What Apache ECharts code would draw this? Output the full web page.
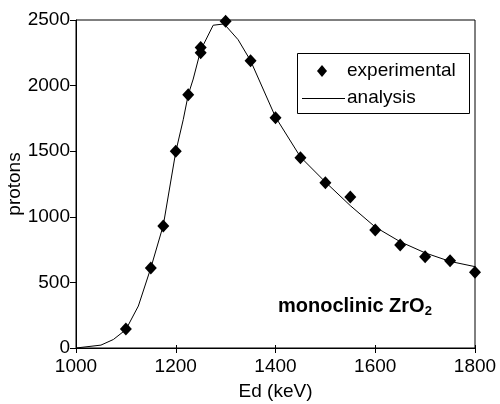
<!DOCTYPE html>
<html>
<head>
<meta charset="utf-8">
<script src="https://cdn.jsdelivr.net/npm/echarts@6/dist/echarts.min.js"></script>
<style>
  html, body { margin: 0; padding: 0; background: #fff; }
  #res { width: 500px; height: 404px; }
</style>
</head>
<body>
<div id="res"></div>
<script>
// measured points
var expX = [1100, 1150, 1175, 1200, 1225, 1250, 1250, 1300, 1350, 1400, 1450, 1500, 1550, 1600, 1650, 1700, 1750, 1800];
var expY = [145, 610, 930, 1500, 1930, 2290, 2250, 2490, 2190, 1755, 1450, 1260, 1150, 900, 785, 695, 665, 578];
// fitted curve
var fitX = [1000, 1050, 1075, 1100, 1125, 1150, 1175, 1200, 1215, 1225, 1235, 1250, 1275, 1297, 1325, 1350, 1400, 1450, 1500, 1550, 1600, 1650, 1700, 1750, 1800];
var fitY = [0, 22, 65, 140, 320, 610, 935, 1495, 1740, 1930, 2050, 2270, 2460, 2470, 2350, 2190, 1760, 1456, 1265, 1085, 922, 810, 725, 660, 620];

var expData = [];
for (var i = 0; i < expX.length; i++) {
    expData.push([expX[i], expY[i]]);
}
var fitData = [];
for (var j = 0; j < fitX.length; j++) {
    fitData.push([fitX[j], fitY[j]]);
}

var myChart = echarts.init(document.getElementById('res'));
var fnt = 'Liberation Sans, Arial, sans-serif';
var plain = function (v) { return String(v); };
var option = {
    animation: false,
    grid: {
        left: 76, right: 25, top: 20, bottom: 56,
        outerBoundsMode: 'none',
        containLabel: false,
        show: true, borderColor: '#000', borderWidth: 1
    },
    xAxis: [{
        type: 'value',
        min: 1000, max: 1800, interval: 200,
        name: 'Ed (keV)',
        nameLocation: 'middle',
        nameGap: 34,
        nameMoveOverlap: false,
        nameTextStyle: { fontFamily: fnt, fontSize: 19, color: '#000' },
        axisLine: { lineStyle: { color: '#000' } },
        axisTick: { show: true, length: 5, lineStyle: { color: '#000' } },
        axisLabel: { fontFamily: fnt, fontSize: 19, color: '#000', margin: 9, formatter: plain },
        splitLine: { show: false }
    }, {
        type: 'value',
        position: 'bottom',
        min: 1000, max: 1800, interval: 200,
        axisLine: { show: false },
        axisTick: { show: true, inside: true, length: 3, lineStyle: { color: '#000' } },
        axisLabel: { show: false },
        splitLine: { show: false }
    }],
    yAxis: {
        type: 'value',
        min: 0, max: 2500, interval: 500,
        name: 'protons',
        nameLocation: 'middle',
        nameGap: 52,
        nameMoveOverlap: false,
        nameTextStyle: { fontFamily: fnt, fontSize: 19, color: '#000' },
        axisLine: { show: true, lineStyle: { color: '#000' } },
        axisTick: { show: true, length: 6, lineStyle: { color: '#000' } },
        axisLabel: { fontFamily: fnt, fontSize: 19, color: '#000', margin: 6, formatter: plain },
        splitLine: { show: false }
    },
    graphic: [{
        type: 'rect',
        shape: { x: 297.5, y: 53.5, width: 172, height: 60 },
        style: { fill: '#fff', stroke: '#000', lineWidth: 1 },
        z: 10
    }, {
        type: 'polygon',
        shape: { points: [[322, 65], [327, 71], [322, 77], [317, 71]] },
        style: { fill: '#000' },
        z: 11
    }, {
        type: 'text',
        x: 347, y: 71,
        style: { text: 'experimental', fontFamily: fnt, fontSize: 19, fill: '#000', verticalAlign: 'middle' },
        z: 11
    }, {
        type: 'line',
        shape: { x1: 302, y1: 98.5, x2: 345, y2: 98.5 },
        style: { stroke: '#000', lineWidth: 1 },
        z: 11
    }, {
        type: 'text',
        x: 347, y: 98,
        style: { text: 'analysis', fontFamily: fnt, fontSize: 19, fill: '#000', verticalAlign: 'middle' },
        z: 11
    }, {
        type: 'text',
        left: 278, top: 296,
        style: {
            text: '{b|monoclinic ZrO}{s|2}',
            rich: {
                b: { fontFamily: fnt, fontSize: 20, fontWeight: 'bold', fill: '#000' },
                s: { fontFamily: fnt, fontSize: 13, fontWeight: 'bold', fill: '#000', padding: [11, 0, 0, 0] }
            }
        }
    }],
    series: [{
        name: 'analysis',
        type: 'line',
        data: fitData,
        symbol: 'none',
        smooth: false,
        z: 2,
        lineStyle: { color: '#000', width: 1 }
    }, {
        name: 'experimental',
        type: 'scatter',
        data: expData,
        symbol: 'diamond',
        symbolSize: [12, 13],
        z: 3,
        itemStyle: { color: '#000', opacity: 1 }
    }]
};
myChart.setOption(option);
</script>
</body>
</html>
